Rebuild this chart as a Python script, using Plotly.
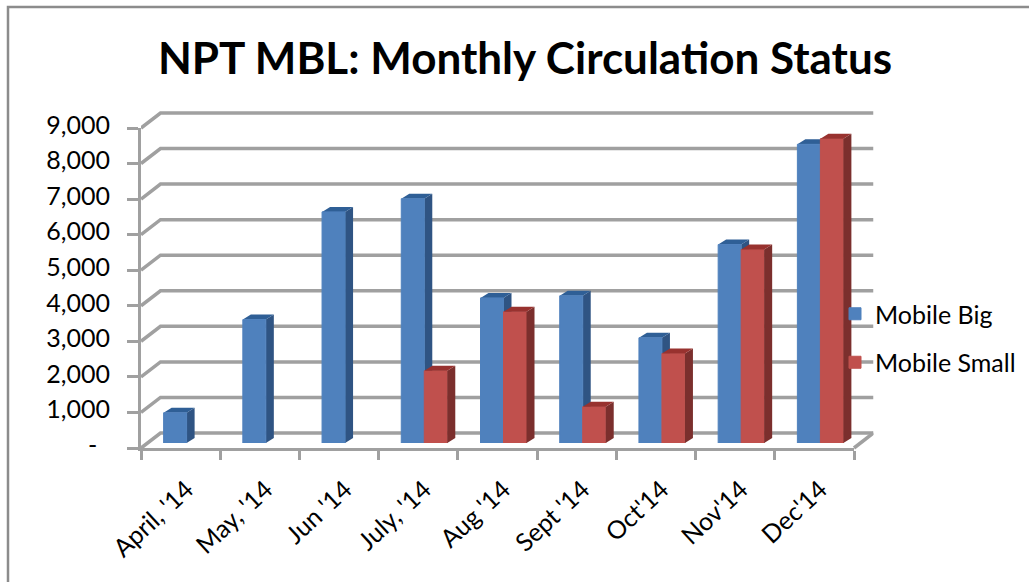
import plotly.graph_objects as go

months = ["April, '14", "May, '14", "Jun '14", "July, '14", "Aug '14", "Sept '14", "Oct'14", "Nov'14", "Dec'14"]
mobile_big = [850, 3470, 6500, 6870, 4080, 4140, 2960, 5580, 8400]
mobile_small = [None, None, None, 2030, 3690, 1020, 2520, 5440, 8560]
y_ticks = [0, 1000, 2000, 3000, 4000, 5000, 6000, 7000, 8000, 9000]
y_labels = ["-\u00a0\u00a0", "1,000", "2,000", "3,000", "4,000", "5,000", "6,000", "7,000", "8,000", "9,000"]

W, H = 1029, 582
GRAY = "#A0A0A0"
BLUE, BLUE_SIDE, BLUE_TOP = "#4F81BD", "#2F5483", "#2F5F96"
RED, RED_SIDE, RED_TOP = "#C0504D", "#7B2F2D", "#98322F"
FONT = "Lato, Carlito, Calibri, sans-serif"
TICK_SIZE = 25

# pixel geometry of the front plane
X0, X1, Y0, Y9 = 141, 854, 448, 128
PX_X = (X1 - X0) / 9
PX_Y = (Y0 - Y9) / 9000
def xdom(shift): return [(X0 + shift) / W, (X1 + shift) / W]
def ydom(shift): return [1 - (Y0 - shift) / H, 1 - (Y9 - shift) / H]

BAR_W = 23 / PX_X
BAR_DX, BAR_DY = 8 / PX_X, 5 / PX_Y
WALL_DX, WALL_DY = 19.5 / PX_X, 15 / PX_Y
XR = [-0.5, 8.5]
YR = [0, 9000]
PAD_Y = 3 / PX_Y

def faces(values, left_edge):
    sx, sy, tx, ty = [], [], [], []
    for i, v in enumerate(values):
        if v is None:
            continue
        l = i + left_edge
        r = l + BAR_W
        sx += [r, r + BAR_DX, r + BAR_DX, r, None]
        sy += [0, BAR_DY, v + BAR_DY, v, None]
        tx += [l, l + BAR_DX, r + BAR_DX, r, None]
        ty += [v, v + BAR_DY, v + BAR_DY, v, None]
    return sx, sy, tx, ty

def poly(x, y, color, xa, ya):
    return go.Scatter(x=x, y=y, mode="lines", fill="toself", fillcolor=color, line=dict(width=0),
                      xaxis=xa, yaxis=ya, showlegend=False, hoverinfo="skip")

fig = go.Figure()
# front axes carrier
fig.add_trace(go.Scatter(x=months, y=mobile_big, mode="none", showlegend=False, hoverinfo="skip"))

# back wall gridlines and the side wall diagonals
dx, dy = [], []
for t in y_ticks:
    dx += [XR[0] - WALL_DX, XR[0], XR[1], None]
    dy += [t - WALL_DY, t, t, None]
dx += [XR[1] - WALL_DX, XR[1], None]
dy += [-WALL_DY, 0, None]
fig.add_trace(go.Scatter(x=dx, y=dy, mode="lines", line=dict(color=GRAY, width=3.5), xaxis="x2", yaxis="y2",
                         showlegend=False, hoverinfo="skip"))

# blue faces sit beneath the bars
sx, sy, tx, ty = faces(mobile_big, -BAR_W)
fig.add_trace(poly(sx, sy, BLUE_SIDE, "x3", "y3"))
fig.add_trace(poly(tx, ty, BLUE_TOP, "x3", "y3"))

# bars
idx = list(range(len(months)))
fig.add_trace(go.Bar(x=idx, y=mobile_big, name="Mobile Big", legendgroup="a",
                     marker=dict(color=BLUE, line=dict(color=BLUE, width=1)), xaxis="x4", yaxis="y4"))
fig.add_trace(go.Bar(x=idx, y=mobile_small, name="Mobile Small", legendgroup="b",
                     marker=dict(color=RED, line=dict(color=RED, width=1)), xaxis="x4", yaxis="y4"))
sx, sy, tx, ty = faces(mobile_small, 0)
fig.add_trace(poly(sx, sy, RED_SIDE, "x4", "y4"))
fig.add_trace(poly(tx, ty, RED_TOP, "x4", "y4"))

fig.update_layout(
    width=W, height=H, margin=dict(l=0, r=0, t=0, b=0, autoexpand=False),
    paper_bgcolor="white", plot_bgcolor="rgba(0,0,0,0)",
    font=dict(family=FONT, color="#000000", size=TICK_SIZE),
    barmode="group", bargap=1 - 2 * BAR_W, bargroupgap=0,
    title=dict(text="<b>NPT MBL: Monthly Circulation Status</b>", x=525 / W, xanchor="center",
               y=1 - 59 / H, yanchor="middle", font=dict(family=FONT, size=44, color="#000000")),
    xaxis=dict(domain=xdom(0), type="category", categoryorder="array", categoryarray=months,
               tickmode="array", tickvals=months, ticks="outside", ticklen=9, tickwidth=3, tickcolor=GRAY,
               tickson="boundaries", showline=True, linecolor=GRAY, linewidth=3, showgrid=False, zeroline=False,
               tickangle=-43, tickfont=dict(size=TICK_SIZE), range=XR, fixedrange=True, ticklabelstandoff=14,
               ticklabelshift=6),
    yaxis=dict(domain=ydom(0), range=YR, tickmode="array", tickvals=y_ticks, ticktext=y_labels,
               ticks="outside", ticklen=11, tickwidth=3, tickcolor=GRAY, showline=True, linecolor=GRAY,
               linewidth=3, showgrid=False, zeroline=False, tickfont=dict(size=TICK_SIZE), ticklabelstandoff=12,
               ticklabelshift=-3, fixedrange=True),
    # wall subplot: spans from the front-left corner to the back-right corner
    xaxis2=dict(domain=[X0 / W, (X1 + 19.5) / W], range=[XR[0] - WALL_DX, XR[1]], anchor="y2", visible=False,
                fixedrange=True),
    yaxis2=dict(domain=[1 - Y0 / H - 3 / H, 1 - (Y9 - 15) / H + 3 / H], range=[-WALL_DY - PAD_Y, YR[1] + PAD_Y],
                anchor="x2", visible=False, fixedrange=True),
    xaxis3=dict(domain=xdom(6), range=XR, anchor="y3", visible=False, fixedrange=True),
    yaxis3=dict(domain=ydom(5), range=YR, anchor="x3", visible=False, fixedrange=True),
    xaxis4=dict(domain=xdom(6), range=XR, anchor="y4", visible=False, fixedrange=True),
    yaxis4=dict(domain=ydom(5), range=YR, anchor="x4", visible=False, fixedrange=True),
    legend=dict(x=835 / W, xanchor="left", y=1 - 338 / H, yanchor="middle", bgcolor="rgba(0,0,0,0)",
                font=dict(size=TICK_SIZE), traceorder="grouped", tracegroupgap=13, itemwidth=30),
    shapes=[dict(type="rect", xref="paper", yref="paper", x0=8 / W, x1=1.05, y0=-0.05, y1=1 - 7 / H,
                 line=dict(color="#8C8C8C", width=2.5), layer="below")],
)
fig.write_html("out.html", post_script="document.body.style.margin='0';", config={"displayModeBar": False})
